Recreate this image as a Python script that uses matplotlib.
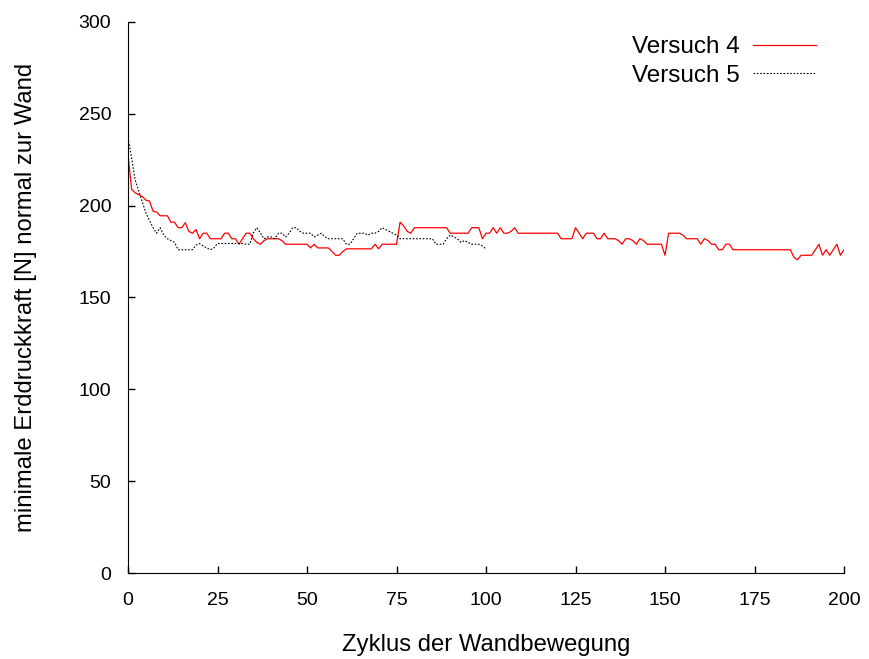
import matplotlib
matplotlib.use("Agg")
import matplotlib.pyplot as plt

plt.rcParams['font.family'] = ['Liberation Sans', 'DejaVu Sans']

# Versuch 4: cycles 0..200
v4_cycles = list(range(0, 201))
v4_values = [
    228, 209, 207, 206, 205, 203, 202.5, 197, 196.5, 194.5,   # 0-9
    194.5, 194.5, 191, 191, 188, 188, 190.7, 186, 185, 187,    # 10-19
    182, 185, 185, 182, 182, 182, 182, 185, 185, 182,          # 20-29
    182, 179, 182, 185, 185, 182, 180, 179, 181, 182,          # 30-39
    182, 182, 182, 181, 179, 179, 179, 179, 179, 179,          # 40-49
    179, 177, 179, 177, 177, 177, 177, 175, 173, 173,          # 50-59
    175, 176.5, 176.5, 176.5, 176.5, 176.5, 176.5, 176.5, 176.5, 179,  # 60-69
    176.5, 179, 179, 179, 179, 179, 191, 189, 186, 185,        # 70-79
    188, 188, 188, 188, 188, 188, 188, 188, 188, 188,          # 80-89
    185, 185, 185, 185, 185, 185, 188, 188, 188, 182,          # 90-99
    185, 185, 188, 185, 188, 185, 185, 186, 188, 185,          # 100-109
    185, 185, 185, 185, 185, 185, 185, 185, 185, 185,          # 110-119
    185, 182, 182, 182, 182, 188, 185, 182, 185, 185,          # 120-129
    185, 182, 182, 185, 182, 182, 182, 181, 179, 182,          # 130-139
    182, 181, 179, 182, 181, 179, 179, 179, 179, 179,          # 140-149
    173, 185, 185, 185, 185, 184, 182, 182, 182, 182,          # 150-159
    179, 182, 181, 179, 179, 176, 176, 179, 179, 176,          # 160-169
    176, 176, 176, 176, 176, 176, 176, 176, 176, 176,          # 170-179
    176, 176, 176, 176, 176, 176, 172, 170.5, 173, 173,        # 180-189
    173, 173, 176, 179, 173, 176, 173, 176, 179, 173,          # 190-199
    176,                                                       # 200
]

# Versuch 5: cycles 0..100
v5_cycles = list(range(0, 101))
v5_values = [
    237, 226, 214, 208, 202, 196, 192, 188, 185, 188,          # 0-9
    184, 182, 181, 180, 176, 176, 176, 176, 176, 178.5,        # 10-19
    179.4, 178, 177, 176, 177, 179.4, 179.4, 179.4, 179.4, 179.4,  # 20-29
    179.4, 179.4, 179.4, 179, 179, 185, 188, 185, 182, 183,    # 30-39
    183, 182, 185, 185, 183, 185, 188, 188, 186, 185,          # 40-49
    185, 185, 183, 184, 185, 183, 182, 182, 182, 182,          # 50-59
    182, 179, 179, 182, 185, 185, 185, 184, 185, 185,          # 60-69
    186, 188, 187, 186, 185, 184, 182, 182, 182, 182,          # 70-79
    182, 182, 182, 182, 182, 182, 179, 179, 179, 182,          # 80-89
    184, 183, 182, 180, 181, 180, 179, 179, 179, 178,          # 90-99
    176.5,                                                     # 100
]

series_labels = ["Versuch 4", "Versuch 5"]
x_ticks = [0, 25, 50, 75, 100, 125, 150, 175, 200]
y_ticks = [0, 50, 100, 150, 200, 250, 300]

fig = plt.figure(figsize=(8.69, 6.59), dpi=100)
ax = fig.add_axes([128 / 869, 1 - 573 / 659, (844 - 128) / 869, (573 - 22) / 659])

ax.plot(v4_cycles, v4_values, color="#ff0000", linewidth=0.9, label=series_labels[0])
ax.plot(v5_cycles, v5_values, color="black", linewidth=0.8, linestyle=(0, (1.5, 1.5)),
        label=series_labels[1])

ax.set_xlim(0, 200)
ax.set_ylim(0, 300)
ax.set_xticks(x_ticks)
ax.set_yticks(y_ticks)
ax.spines['top'].set_visible(False)
ax.spines['right'].set_visible(False)
ax.tick_params(direction='in', length=5, width=1, labelsize=14)
ax.tick_params(axis='y', pad=12)
ax.tick_params(axis='x', pad=14)

ax.set_xlabel("Zyklus der Wandbewegung", fontsize=17.2, labelpad=18)
ax.set_ylabel("minimale Erddruckkraft [N] normal zur Wand", fontsize=17.2, labelpad=30)

ax.legend(loc='upper right', frameon=False, fontsize=17.5, markerfirst=False,
          handlelength=2.6, handletextpad=0.55, borderpad=0, borderaxespad=0,
          labelspacing=0.28, bbox_to_anchor=(816 / 869, 1 - 36 / 659),
          bbox_transform=fig.transFigure)

fig.savefig("out.png", dpi=100)
